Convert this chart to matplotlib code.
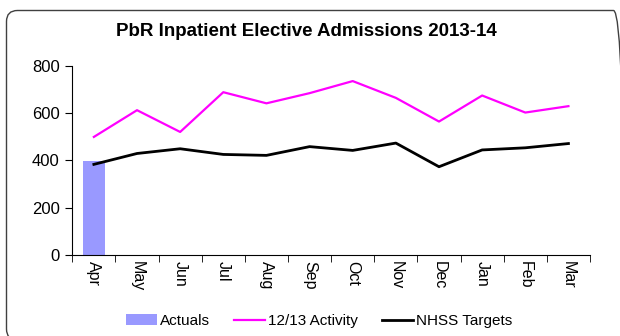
import numpy as np
import matplotlib.pyplot as plt
from matplotlib.patches import FancyBboxPatch
from matplotlib.transforms import IdentityTransform

months = ['Apr', 'May', 'Jun', 'Jul', 'Aug', 'Sep', 'Oct', 'Nov', 'Dec', 'Jan', 'Feb', 'Mar']
actuals = [397]
activity = [499, 612, 520, 688, 641, 684, 735, 664, 564, 674, 602, 629]
targets = [383, 429, 449, 425, 421, 458, 442, 473, 373, 444, 453, 471]

plt.rcParams['font.family'] = ['Liberation Sans', 'DejaVu Sans']

fig = plt.figure(figsize=(6.2, 3.36), dpi=100)

# rounded chart border, in pixels (bottom and right run off the image)
border = FancyBboxPatch((6.5, -4), 618, 329.5,
                        boxstyle='round,pad=0,rounding_size=11',
                        transform=IdentityTransform(), fill=False,
                        edgecolor='#404040', linewidth=1.0, clip_on=False)
fig.patches.append(border)

ax = fig.add_axes([72.3/620, 1 - 255/336, (590 - 72.3)/620, (255 - 65.7)/336])

x = np.arange(len(months))
h_bar = ax.bar(x[:len(actuals)], actuals, width=0.51, color='#9999ff')
h_act, = ax.plot(x, activity, color='#ff00ff', lw=1.6)
h_tgt, = ax.plot(x, targets, color='black', lw=2.0)

ax.set_xlim(-0.5, len(months) - 0.5)
ax.set_ylim(0, 800)
ax.set_yticks([0, 200, 400, 600, 800])
ax.set_xticks(x)
ax.set_xticklabels(months, rotation=-90, fontsize=11.5)
ax.tick_params(axis='x', length=0, pad=4)
ax.set_xticks(np.arange(-0.5, len(months)), minor=True)
ax.tick_params(axis='x', which='minor', length=5, direction='out')
ax.tick_params(axis='y', labelsize=12, length=5, direction='out', pad=4)

for s in ['top', 'right']:
    ax.spines[s].set_visible(False)

fig.text(306/620, 1 - 31/336, 'PbR Inpatient Elective Admissions 2013-14',
         ha='center', va='center', fontsize=13.5, fontweight='bold')

fig.legend([h_bar, h_act, h_tgt], ['Actuals', '12/13 Activity', 'NHSS Targets'],
           loc='center', bbox_to_anchor=(319/620, 1 - 321/336), ncol=3,
           frameon=False, fontsize=11, handlelength=2.0, handletextpad=0.2,
           columnspacing=1.6)

fig.savefig('out.png', dpi=100)
